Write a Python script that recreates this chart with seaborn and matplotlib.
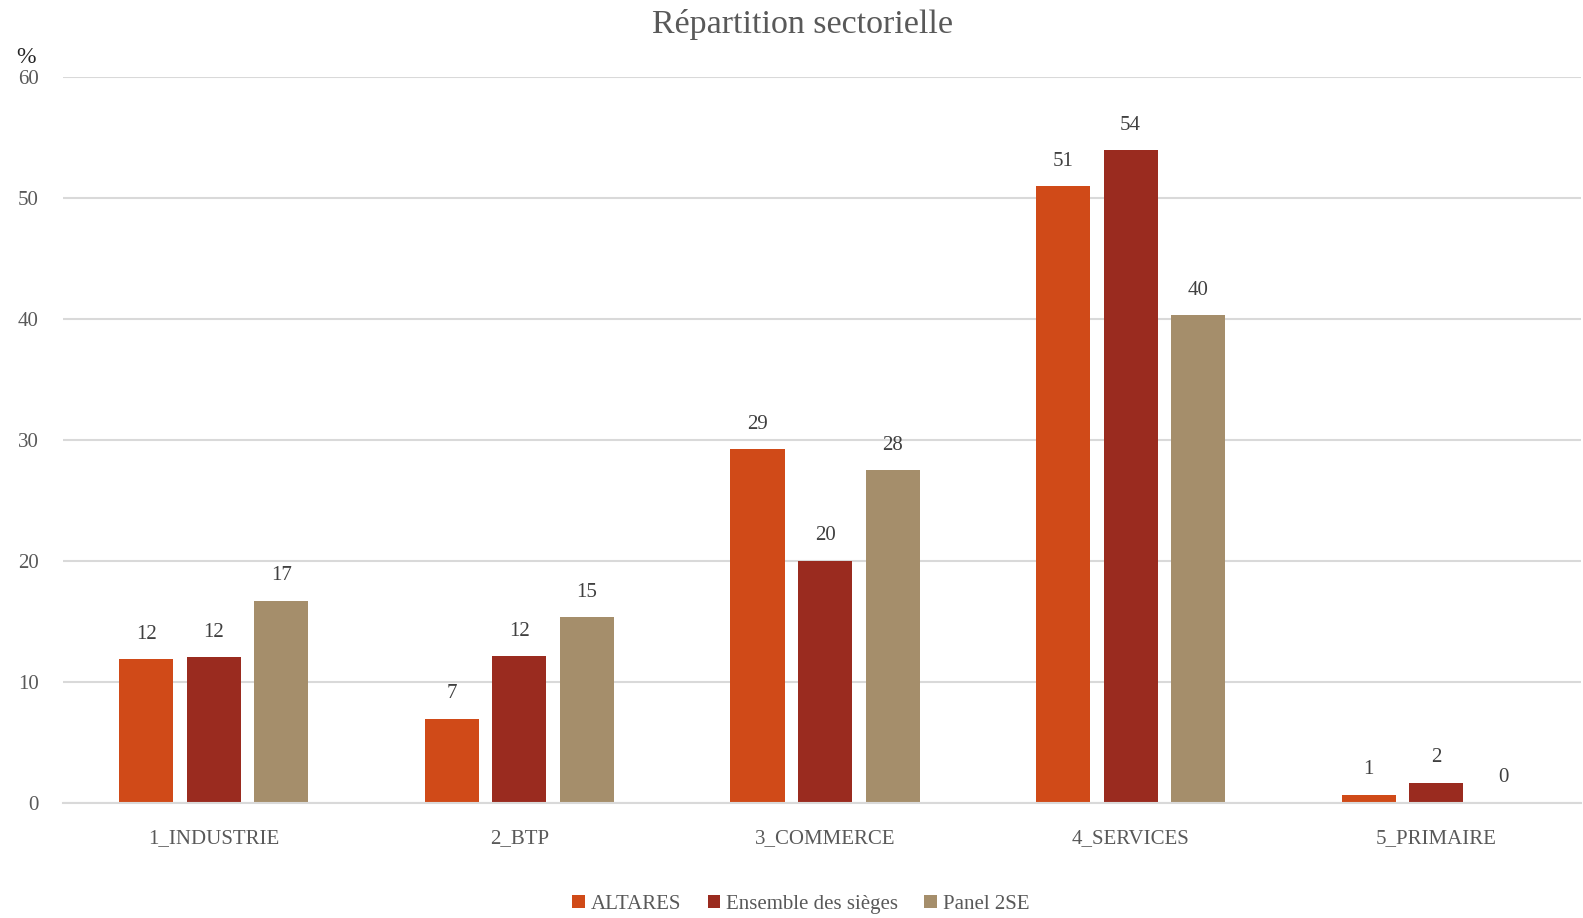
import numpy as np
import pandas as pd
import matplotlib
matplotlib.use("Agg")
import matplotlib.pyplot as plt
import seaborn as sns

# values (in %)
sectors = ["1_INDUSTRIE", "2_BTP", "3_COMMERCE", "4_SERVICES", "5_PRIMAIRE"]
altares = [11.85, 6.95, 29.2, 50.95, 0.65]
ensemble = [12.0, 12.1, 20.0, 53.95, 1.65]
panel = [16.7, 15.35, 27.5, 40.3, 0.0]
series_names = ["ALTARES", "Ensemble des sièges", "Panel 2SE"]
colors = ["#D04A18", "#9A2B1F", "#A58E6B"]

sns.set_theme(style="white")
plt.rcParams["font.family"] = ["Liberation Serif", "DejaVu Serif"]

df = pd.DataFrame({
    "secteur": sectors * 3,
    "serie": np.repeat(series_names, len(sectors)),
    "valeur": altares + ensemble + panel,
})

fig = plt.figure(figsize=(15.83, 9.18), dpi=100)
ax = fig.add_axes([0.0395, 0.1257, 0.9595, 0.7907])

sns.barplot(data=df, x="secteur", y="valeur", hue="serie",
            hue_order=series_names, palette=colors, width=0.663, gap=0.2,
            saturation=1, linewidth=0, ax=ax, legend=True)

# data labels, rounded like the original
for cont in ax.containers:
    vals = [b.get_height() for b in cont]
    ax.bar_label(cont, labels=[f"{v:.0f}" for v in vals], padding=11,
                 fontsize=15, color="#404040")

ax.set_ylim(0, 60)
ax.set_xlim(-0.495, 4.475)
ax.set_yticks(range(0, 61, 10))
ax.yaxis.grid(True, color="#D9D9D9", linewidth=1.5)
ax.set_axisbelow(True)
for side in ["left", "right", "top"]:
    ax.spines[side].set_visible(False)
ax.spines["bottom"].set_color("#D9D9D9")
ax.spines["bottom"].set_linewidth(1.5)
ax.tick_params(axis="both", length=0, labelsize=15, labelcolor="#595959")
ax.tick_params(axis="x", pad=19)
ax.tick_params(axis="y", pad=17)
ax.set_xlabel("")
ax.set_ylabel("")

fig.text(0.0102, 0.937, "%", fontsize=17, color="#262626", ha="left", va="center")
fig.suptitle("Répartition sectorielle", x=0.507, y=0.99, fontsize=24.5,
             color="#595959")

handles, labels = ax.get_legend_handles_labels()
ax.legend_.remove()
fig.legend(handles, labels, loc="center", bbox_to_anchor=(0.506, 0.015), ncol=3,
           frameon=False, fontsize=15, labelcolor="#595959",
           handlelength=0.6, handleheight=0.6, handletextpad=0.3,
           columnspacing=1.25)

fig.savefig("out.png", dpi=100)
